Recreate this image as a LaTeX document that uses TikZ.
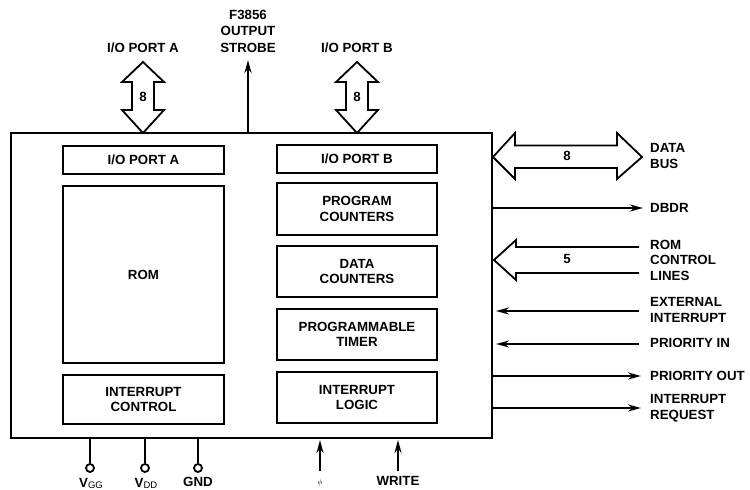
\documentclass[tikz,border=0pt]{standalone}
\usepackage{fontspec}
\setmainfont{Liberation Sans}
\usetikzlibrary{arrows.meta}
\tikzset{
  txt/.style={font=\fontsize{13.3}{15.5}\selectfont\bfseries, inner sep=0pt, align=center},
  ltxt/.style={font=\fontsize{13.3}{15.5}\selectfont\bfseries, inner sep=0pt, align=left, anchor=west},
  chip/.style={draw, line width=2.8pt, minimum width=481pt, minimum height=305pt, inner sep=0pt},
  blk/.style={draw, line width=2.6pt, minimum width=161pt, inner sep=0pt, align=center,
              font=\fontsize{13.3}{15.5}\selectfont\bfseries},
  sig/.style={line width=2pt, -{Stealth[length=13pt,width=7pt]}},
  bus/.style={line width=1.8pt, line join=miter},
  pin/.style={circle, draw, line width=1.8pt, minimum size=8pt, inner sep=0pt}
}
\begin{document}
\begin{tikzpicture}[x=1pt,y=-1pt]
\useasboundingbox (0,0) rectangle (750,490);
% main chip
\node[chip] (chip) at (251.5,285.5) {};
% left column
\node[blk, minimum height=28pt] (pa) at (143.5,160) {I/O PORT A};
\node[blk, minimum height=177pt] (rom) at (143.5,274.5) {ROM};
\node[blk, minimum height=49pt] (ic) at (143.5,399.5) {INTERRUPT\\CONTROL};
% right column
\node[blk, minimum width=160pt, minimum height=28pt] (pb) at (357,159) {I/O PORT B};
\node[blk, minimum width=160pt, minimum height=52pt] (pc) at (357,209) {PROGRAM\\COUNTERS};
\node[blk, minimum width=160pt, minimum height=51pt] (dc) at (357,271.5) {DATA\\COUNTERS};
\node[blk, minimum width=160pt, minimum height=51pt] (pt) at (357,334.5) {PROGRAMMABLE\\TIMER};
\node[blk, minimum width=160pt, minimum height=51pt] (il) at (357,397.5) {INTERRUPT\\LOGIC};

% top labels
\node[txt] (lpa) at (143,48) {I/O PORT A};
\node[txt] (lpb) at (357,48) {I/O PORT B};
\node[txt, font=\fontsize{13.3}{16.5}\selectfont\bfseries] (lstrobe) at (248,31) {F3856\\OUTPUT\\STROBE};

% top vertical double arrows (I/O ports)
\foreach \cx/\nm in {143/a,357/b}{
  \coordinate (top\nm) at (\cx,62);
  \coordinate (bot\nm) at (\cx,133);
  \draw[bus] (top\nm) -- ++(21,20) -- ++(-10,0) -- ++(0,28) -- ++(10,0) -- (bot\nm)
             -- ++(-21,-23) -- ++(10,0) -- ++(0,-28) -- ++(-10,0) -- cycle;
  \node[txt] (eight\nm) at (\cx,97) {8};
}
% output strobe
\coordinate (strobeS) at (248,133);
\coordinate (strobeE) at (248,60);
\draw[sig] (strobeS) -- (strobeE);

% DATA BUS double arrow
\coordinate (dbL) at (493,157);
\coordinate (dbR) at (642,157);
\draw[bus] (dbL) -- ++(22,-24) -- ++(0,12.5) -- ++(102,0) -- ++(0,-12.5) -- (dbR)
           -- ++(-25,22) -- ++(0,-11) -- ++(-102,0) -- ++(0,11) -- cycle;
\node[txt] (b8) at (567,156) {8};
\node[ltxt] (ldb) at (650,156) {DATA\\BUS};

% DBDR
\coordinate (dbdrS) at (492,208);
\node[ltxt] (ldbdr) at (650,208) {DBDR};
\coordinate (dbdrE) at (643,208);
\draw[sig] (dbdrS) -- (dbdrE);

% ROM control lines
\coordinate (rcT) at (639,247);
\coordinate (rcB) at (639,273);
\coordinate (rcTip) at (494,260);
\draw[bus] (rcT) -- (516,247) -- (516,240) -- (rcTip) -- (516,280) -- (516,273) -- (rcB);
\node[txt] (b5) at (567,259) {5};
\node[ltxt] (lrc) at (650,260) {ROM\\CONTROL\\LINES};

% external interrupt, priority in
\node[ltxt] (lei) at (650,310) {EXTERNAL\\INTERRUPT};
\coordinate (eiS) at (639,311);
\coordinate (eiE) at (496,311);
\draw[sig] (eiS) -- (eiE);
\node[ltxt] (lpi) at (650,343) {PRIORITY IN};
\coordinate (piS) at (639,344);
\coordinate (piE) at (496,344);
\draw[sig] (piS) -- (piE);

% priority out, interrupt request
\node[ltxt] (lpo) at (650,376) {PRIORITY OUT};
\coordinate (poS) at (492,376);
\coordinate (poE) at (641,376);
\draw[sig] (poS) -- (poE);
\node[ltxt] (lir) at (650,408) {INTERRUPT\\REQUEST};
\coordinate (irS) at (492,408);
\coordinate (irE) at (641,408);
\draw[sig] (irS) -- (irE);

% power pins
\foreach \px/\nm in {90/vgg,145/vdd,198/gnd}{
  \node[pin] (c\nm) at (\px,468) {};
  \draw[line width=1.8pt] (\px,438) -- (c\nm.north);
}
\node[txt] (lvgg) at (91,483) {V\raisebox{-1pt}{\fontsize{9.5}{10}\selectfont\mdseries GG}};
\node[txt] (lvdd) at (146,483) {V\raisebox{-1pt}{\fontsize{9.5}{10}\selectfont\mdseries DD}};
\node[txt] (lgnd) at (198,482) {GND};

% clock and write
\coordinate (phiS) at (320,471);
\coordinate (phiE) at (320,440);
\draw[sig] (phiS) -- (phiE);
\node[inner sep=0pt] (lphi) at (320,483) {$\scriptstyle\phi$};
\coordinate (wrS) at (398,471);
\coordinate (wrE) at (398,440);
\draw[sig] (wrS) -- (wrE);
\node[txt] (lwr) at (398,481) {WRITE};
\end{tikzpicture}
\end{document}
